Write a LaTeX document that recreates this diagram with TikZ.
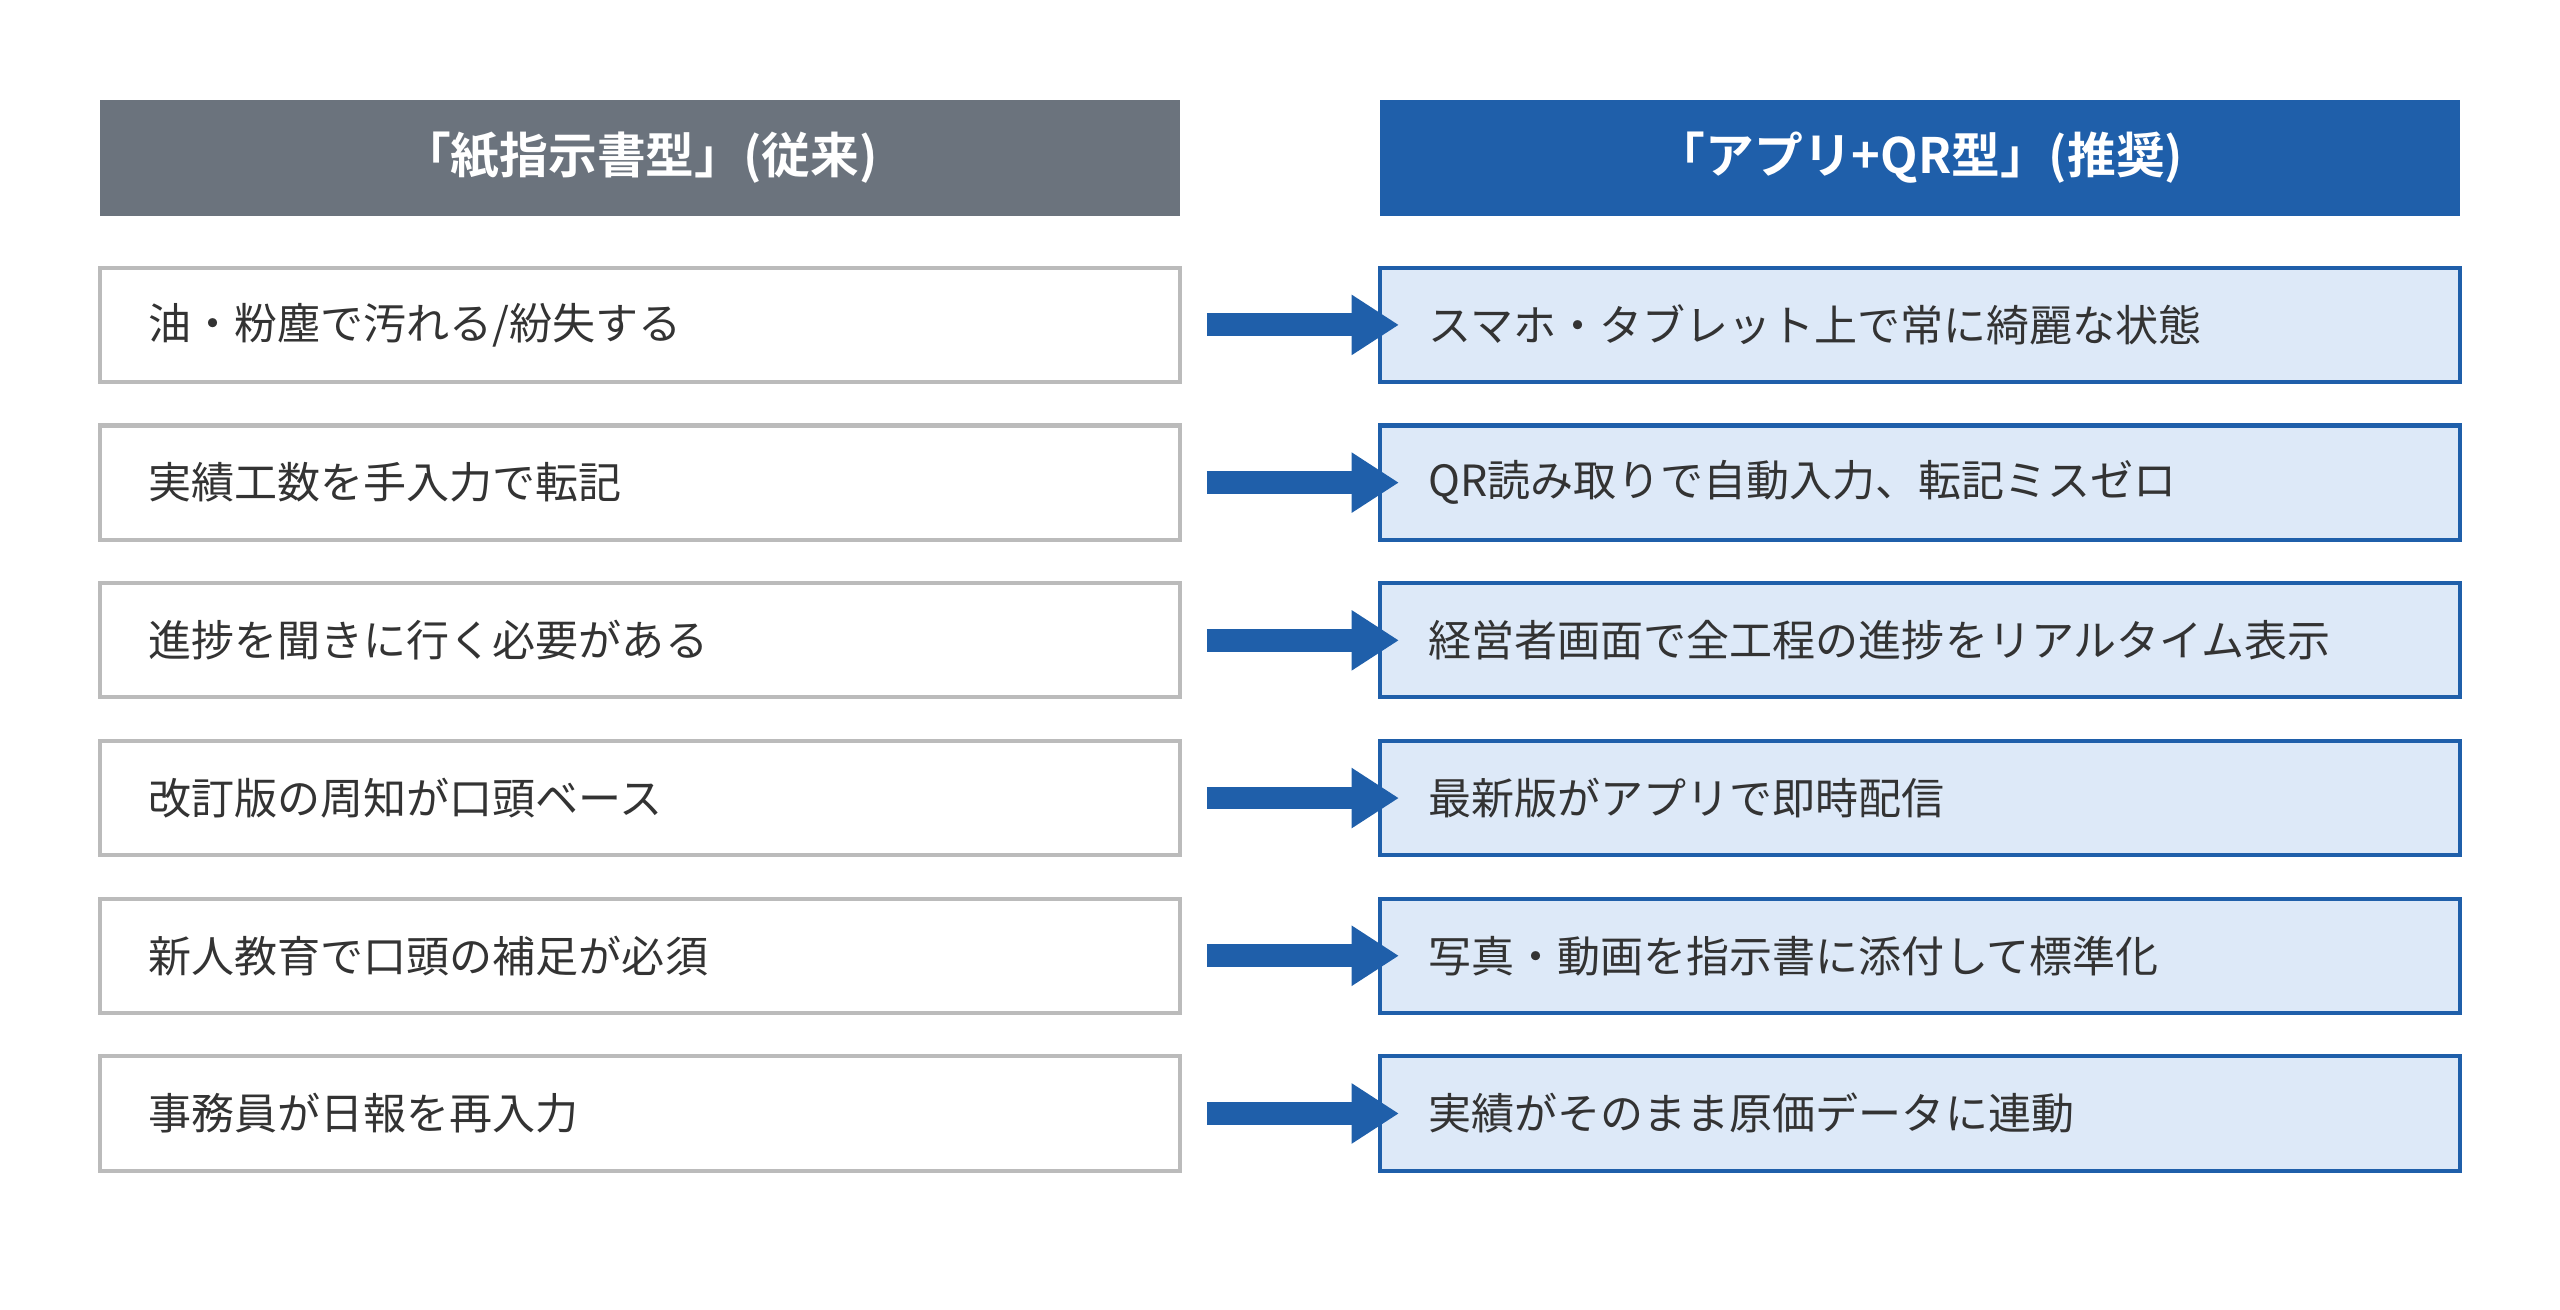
\documentclass[tikz,border=0pt]{standalone}
\usepackage{fontspec}
\setmainfont{Noto Sans CJK JP}[BoldFont={* Bold}]
\usetikzlibrary{arrows.meta,positioning}

\definecolor{oldgray}{HTML}{6B737D}
\definecolor{newblue}{HTML}{1F5FAA}
\definecolor{newfill}{HTML}{DDE9F8}
\definecolor{boxgray}{HTML}{BBBBBB}
\definecolor{txt}{HTML}{333333}

\tikzset{
    head/.style={minimum width=13.24cm, minimum height=1.42cm, inner sep=0pt,
        text=white, font=\fontsize{17}{20}\selectfont\bfseries},
    oldbox/.style={draw=boxgray, line width=1.4pt, fill=white, minimum width=13.24cm,
        minimum height=1.4cm, text width=12.04cm, inner xsep=0.6cm, align=left,
        text=txt, font=\fontsize{15}{18}\selectfont},
    newbox/.style={oldbox, draw=newblue, fill=newfill},
    flow/.style={newblue, line width=0.28cm, -{Triangle[length=0.58cm,width=0.7cm]},
        shorten <=0.3cm, shorten >=-0.26cm}
}

\begin{document}
\begin{tikzpicture}[x=0.02cm,y=-0.02cm]
    % page size
    \useasboundingbox (0,0) rectangle (1568,802);

    % headers
    \node[head, fill=oldgray] (hl) at (392,96.5) {「紙指示書型」(従来)};
    \node[head, fill=newblue] (hr) at (1176,96.5) {「アプリ+QR型」(推奨)};

    % rows
    \foreach \l/\r [count=\i from 0] in {
        {油・粉塵で汚れる/紛失する}/{スマホ・タブレット上で常に綺麗な状態},
        {実績工数を手入力で転記}/{QR読み取りで自動入力、転記ミスゼロ},
        {進捗を聞きに行く必要がある}/{経営者画面で全工程の進捗をリアルタイム表示},
        {改訂版の周知が口頭ベース}/{最新版がアプリで即時配信},
        {新人教育で口頭の補足が必須}/{写真・動画を指示書に添付して標準化},
        {事務員が日報を再入力}/{実績がそのまま原価データに連動}} {
        \node[oldbox] (l\i) at (392,199+96.6*\i) {\l};
        \node[newbox] (r\i) at (1176,199+96.6*\i) {\r};
        \draw[flow] (l\i.east) -- (r\i.west);
    }
\end{tikzpicture}
\end{document}
